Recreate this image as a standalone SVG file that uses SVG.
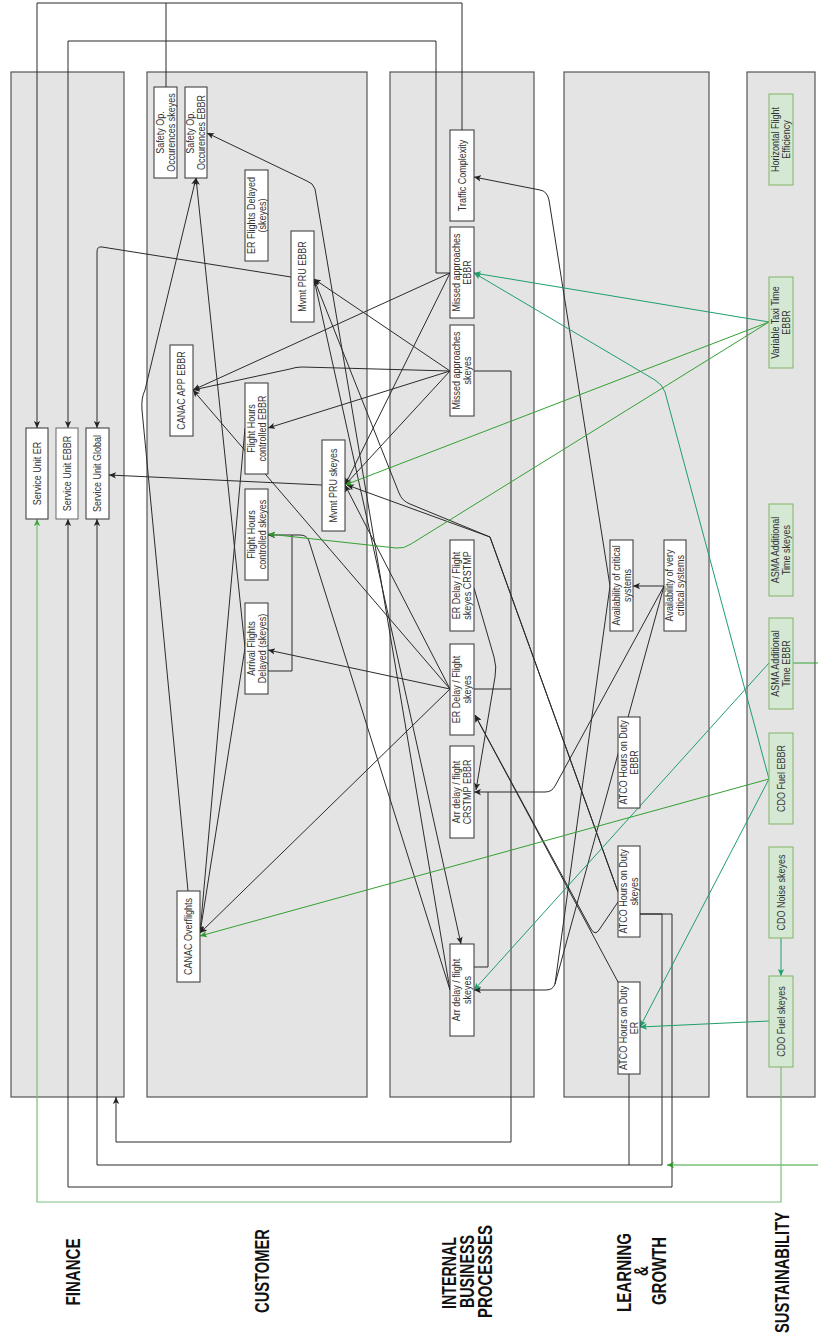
<svg xmlns="http://www.w3.org/2000/svg" width="818" height="1339" viewBox="0 0 818 1339">
  <style>
    .lane { fill: #e4e4e4; stroke: #555; stroke-width: 1.2; }
    .box { fill: #fff; stroke: #333; stroke-width: 1; }
    .gbox { fill: #d5e8d4; stroke: #82b366; stroke-width: 1; }
    .t { font-family: "Liberation Sans", Arial, sans-serif; font-size: 10px; fill: #333; text-anchor: middle; }
    .h { font-family: "Liberation Sans", Arial, sans-serif; font-size: 20px; font-weight: bold; fill: #111; }
    .e { fill: none; stroke: #2b2b2b; stroke-width: 1; }
    .ea { fill: none; stroke: #2b2b2b; stroke-width: 1; marker-end: url(#ab); }
    .g { fill: none; stroke: #34a034; stroke-width: 1; marker-end: url(#ag); }
    .gt { fill: none; stroke: #1f9e6a; stroke-width: 1; marker-end: url(#at); }
    .gp { fill: none; stroke: #7cc07c; stroke-width: 1.2; marker-end: url(#ap); }
  </style>
  <defs>
    <marker id="ab" viewBox="0 0 10 10" refX="10" refY="5" markerWidth="7" markerHeight="7" markerUnits="userSpaceOnUse" orient="auto">
      <path d="M0,0.5 L10,5 L0,9.5 L2.5,5 z" fill="#222"/>
    </marker>
    <marker id="ag" viewBox="0 0 10 10" refX="10" refY="5" markerWidth="7" markerHeight="7" markerUnits="userSpaceOnUse" orient="auto">
      <path d="M0,0.5 L10,5 L0,9.5 L2.5,5 z" fill="#2a9a2a"/>
    </marker>
    <marker id="at" viewBox="0 0 10 10" refX="10" refY="5" markerWidth="7" markerHeight="7" markerUnits="userSpaceOnUse" orient="auto">
      <path d="M0,0.5 L10,5 L0,9.5 L2.5,5 z" fill="#1f9e6a"/>
    </marker>
    <marker id="ap" viewBox="0 0 10 10" refX="10" refY="5" markerWidth="7" markerHeight="7" markerUnits="userSpaceOnUse" orient="auto">
      <path d="M0,0.5 L10,5 L0,9.5 L2.5,5 z" fill="#3fa83f"/>
    </marker>
  </defs>

  <rect width="818" height="1339" fill="#fff"/>

  <!-- perspective lanes -->
  <g id="lane-finance"><rect class="lane" x="11" y="72" width="113" height="1025"/></g>
  <g id="lane-customer"><rect class="lane" x="147" y="72" width="220" height="1025"/></g>
  <g id="lane-internal"><rect class="lane" x="390" y="72" width="144" height="1025"/></g>
  <g id="lane-learning"><rect class="lane" x="564" y="72" width="145" height="1025"/></g>
  <g id="lane-sustainability"><rect class="lane" x="747" y="72" width="68" height="1025"/></g>

  <!-- connectors -->
  <g id="connectors">
    <!-- routed links into the finance units -->
    <path class="ea" d="M462,130 V3 H37 V428"/>
    <path class="e" d="M166,87 V3"/>
    <path class="ea" d="M450,273 H436 V41 H68 V428"/>
    <path class="ea" d="M291,277 L102,247 Q97,246 97,252 V428"/>
    <path class="ea" d="M322,485 L109,475"/>
    <path class="ea" d="M474,371 H511 V1142 H116 V1097"/>
    <path class="e" d="M474,689 H511"/>
    <path class="ea" d="M640,914 H662 V1165 H97 V519"/>
    <path class="e" d="M629,1074 V1165"/>
    <path class="ea" d="M640,914 H672 V1187 H68 V519"/>

    <!-- customer lane -->
    <path class="ea" d="M188,891 L142,410 Q141,398 145,390 L196,178"/>
    <path class="ea" d="M245,648 L196,178"/>
    <path class="ea" d="M245,648 L200,933"/>
    <path class="ea" d="M245,428 L200,933"/>
    <path class="ea" d="M450,689 L200,933"/>
    <path class="ea" d="M450,689 L193,390"/>
    <path class="ea" d="M450,689 L268,650"/>
    <path class="ea" d="M450,689 L345,485"/>
    <path class="ea" d="M450,273 L193,390"/>
    <path class="ea" d="M450,273 L345,485"/>
    <path class="ea" d="M450,371 L314,279"/>
    <path class="ea" d="M450,371 L302,367 Q296,367 290,369 L193,390"/>
    <path class="ea" d="M450,371 L268,428"/>
    <path class="ea" d="M450,371 L345,485"/>
    <path class="ea" d="M450,990 L315,189 Q313,183 307,181 L207,133"/>
    <path class="ea" d="M314,279 L461,944"/>
    <path class="ea" d="M450,990 L309,541 Q307,535 300,535 H268"/>
    <path class="e" d="M268,671 H292 V535"/>
    <path class="ea" d="M618,892 L490,537 L347,485"/>
    <path class="ea" d="M618,892 L490,537 L410,504 Q402,501 399,493 L314,279"/>

    <!-- internal and learning lanes -->
    <path class="ea" d="M610,586 L549,200 Q547,191 540,190 L474,177"/>
    <path class="ea" d="M664,586 H633"/>
    <path class="ea" d="M664,586 L555,786 Q552,792 545,792 H474"/>
    <path class="ea" d="M664,586 L555,984 Q553,990 546,990 H474"/>
    <path class="e" d="M610,586 L555,984"/>
    <path class="ea" d="M474,588 L494,657 Q497,667 495,677 L476,790"/>
    <path class="e" d="M474,967 H488 V792"/>
    <path class="ea" d="M618,902 L599,930 Q595,936 591,929 L475,715"/>
    <path class="ea" d="M618,982 L475,715"/>

    <!-- sustainability links -->
    <path class="gt" d="M769,322 L474,273"/>
    <path class="g" d="M769,322 L345,485"/>
    <path class="g" d="M769,322 L411,544 Q404,549 396,548 L268,534"/>
    <path class="gt" d="M769,779 L665,392 Q662,384 655,380 L474,273"/>
    <path class="g" d="M769,779 L200,936"/>
    <path class="gt" d="M769,779 L640,1027"/>
    <path class="gt" d="M769,1021 L640,1027"/>
    <path class="gt" d="M769,663 L474,990"/>
    <path class="g" d="M793,663 H830 V1165 H667"/>
    <path class="gt" d="M781,938 V976"/>
    <path class="gp" d="M781,1067 V1202 H37 V519"/>
  </g>

  <!-- finance -->
  <g id="n-su-er"><rect class="box" x="26" y="428" width="22" height="91"/><text class="t" transform="translate(37,473.5) rotate(-90) scale(0.9,1)" y="3.5">Service Unit ER</text></g>
  <g id="n-su-ebbr"><rect class="box" x="56" y="428" width="22" height="91" style="stroke:#666"/><text class="t" transform="translate(67,473.5) rotate(-90) scale(0.9,1)" y="3.5">Service Unit EBBR</text></g>
  <g id="n-su-global"><rect class="box" x="86" y="428" width="23" height="91"/><text class="t" transform="translate(97.5,473.5) rotate(-90) scale(0.9,1)" y="3.5">Service Unit Global</text></g>

  <!-- customer -->
  <g id="n-safety-skeyes"><rect class="box" x="154" y="87" width="23" height="91"/><text class="t" transform="translate(165.5,132.5) rotate(-90) scale(0.9,1)"><tspan x="0" y="-2">Safety Op.</tspan><tspan x="0" y="9">Occurences skeyes</tspan></text></g>
  <g id="n-safety-ebbr"><rect class="box" x="185" y="87" width="22" height="91"/><text class="t" transform="translate(196,132.5) rotate(-90) scale(0.9,1)"><tspan x="0" y="-2">Safety Op.</tspan><tspan x="0" y="9">Occurences EBBR</tspan></text></g>
  <g id="n-er-flights-delayed"><rect class="box" x="245" y="170" width="23" height="91"/><text class="t" transform="translate(256.5,215.5) rotate(-90) scale(0.9,1)"><tspan x="0" y="-2">ER Flights Delayed</tspan><tspan x="0" y="9">(skeyes)</tspan></text></g>
  <g id="n-mvmt-pru-ebbr"><rect class="box" x="291" y="231" width="23" height="91"/><text class="t" transform="translate(302.5,276.5) rotate(-90) scale(0.9,1)" y="3.5">Mvmt PRU EBBR</text></g>
  <g id="n-canac-app-ebbr"><rect class="box" x="170" y="345" width="23" height="91"/><text class="t" transform="translate(181.5,390.5) rotate(-90) scale(0.9,1)" y="3.5">CANAC APP EBBR</text></g>
  <g id="n-fh-ebbr"><rect class="box" x="245" y="383" width="23" height="91"/><text class="t" transform="translate(256.5,428.5) rotate(-90) scale(0.9,1)"><tspan x="0" y="-2">Flight Hours</tspan><tspan x="0" y="9">controlled EBBR</tspan></text></g>
  <g id="n-mvmt-pru-skeyes"><rect class="box" x="322" y="440" width="23" height="91"/><text class="t" transform="translate(333.5,485.5) rotate(-90) scale(0.9,1)" y="3.5">Mvmt PRU skeyes</text></g>
  <g id="n-fh-skeyes"><rect class="box" x="245" y="489" width="23" height="91"/><text class="t" transform="translate(256.5,534.5) rotate(-90) scale(0.9,1)"><tspan x="0" y="-2">Flight Hours</tspan><tspan x="0" y="9">controlled skeyes</tspan></text></g>
  <g id="n-arrival-delayed"><rect class="box" x="245" y="603" width="23" height="91"/><text class="t" transform="translate(256.5,648.5) rotate(-90) scale(0.9,1)"><tspan x="0" y="-2">Arrival Flights</tspan><tspan x="0" y="9">Delayed (skeyes)</tspan></text></g>
  <g id="n-canac-overflights"><rect class="box" x="177" y="891" width="23" height="91"/><text class="t" transform="translate(188.5,936.5) rotate(-90) scale(0.9,1)" y="3.5">CANAC Overflights</text></g>

  <!-- internal business processes -->
  <g id="n-traffic-complexity"><rect class="box" x="450" y="130" width="24" height="91"/><text class="t" transform="translate(462,175.5) rotate(-90) scale(0.9,1)" y="3.5">Traffic Complexity</text></g>
  <g id="n-missed-ebbr"><rect class="box" x="450" y="227" width="24" height="91"/><text class="t" transform="translate(462,272.5) rotate(-90) scale(0.9,1)"><tspan x="0" y="-2">Missed approaches</tspan><tspan x="0" y="9">EBBR</tspan></text></g>
  <g id="n-missed-skeyes"><rect class="box" x="450" y="325" width="24" height="91"/><text class="t" transform="translate(462,370.5) rotate(-90) scale(0.9,1)"><tspan x="0" y="-2">Missed approaches</tspan><tspan x="0" y="9">skeyes</tspan></text></g>
  <g id="n-er-delay-crstmp"><rect class="box" x="450" y="540" width="24" height="91"/><text class="t" transform="translate(462,585.5) rotate(-90) scale(0.9,1)"><tspan x="0" y="-2">ER Delay / Flight</tspan><tspan x="0" y="9">skeyes CRSTMP</tspan></text></g>
  <g id="n-er-delay-skeyes"><rect class="box" x="450" y="644" width="24" height="91"/><text class="t" transform="translate(462,689.5) rotate(-90) scale(0.9,1)"><tspan x="0" y="-2">ER Delay / Flight</tspan><tspan x="0" y="9">skeyes</tspan></text></g>
  <g id="n-arr-delay-crstmp"><rect class="box" x="450" y="746" width="24" height="92"/><text class="t" transform="translate(462,792) rotate(-90) scale(0.9,1)"><tspan x="0" y="-2">Arr delay / flight</tspan><tspan x="0" y="9">CRSTMP EBBR</tspan></text></g>
  <g id="n-arr-delay-skeyes"><rect class="box" x="450" y="944" width="24" height="92"/><text class="t" transform="translate(462,990) rotate(-90) scale(0.9,1)"><tspan x="0" y="-2">Arr delay / flight</tspan><tspan x="0" y="9">skeyes</tspan></text></g>

  <!-- learning and growth -->
  <g id="n-avail-critical"><rect class="box" x="610" y="540" width="23" height="91"/><text class="t" transform="translate(621.5,585.5) rotate(-90) scale(0.9,1)"><tspan x="0" y="-2">Availability of critical</tspan><tspan x="0" y="9">systems</tspan></text></g>
  <g id="n-avail-very-critical"><rect class="box" x="664" y="540" width="22" height="91"/><text class="t" transform="translate(675,585.5) rotate(-90) scale(0.9,1)"><tspan x="0" y="-2">Availability of very</tspan><tspan x="0" y="9">critical systems</tspan></text></g>
  <g id="n-atco-ebbr"><rect class="box" x="618" y="717" width="22" height="91"/><text class="t" transform="translate(629,762.5) rotate(-90) scale(0.9,1)"><tspan x="0" y="-2">ATCO Hours on Duty</tspan><tspan x="0" y="9">EBBR</tspan></text></g>
  <g id="n-atco-skeyes"><rect class="box" x="618" y="846" width="22" height="91"/><text class="t" transform="translate(629,891.5) rotate(-90) scale(0.9,1)"><tspan x="0" y="-2">ATCO Hours on Duty</tspan><tspan x="0" y="9">skeyes</tspan></text></g>
  <g id="n-atco-er"><rect class="box" x="618" y="982" width="22" height="92"/><text class="t" transform="translate(629,1028) rotate(-90) scale(0.9,1)"><tspan x="0" y="-2">ATCO Hours on Duty</tspan><tspan x="0" y="9">ER</tspan></text></g>

  <!-- sustainability -->
  <g id="n-hfe"><rect class="gbox" x="769" y="94" width="24" height="91"/><text class="t" transform="translate(781,139.5) rotate(-90) scale(0.9,1)"><tspan x="0" y="-2">Horizontal Flight</tspan><tspan x="0" y="9">Efficiency</tspan></text></g>
  <g id="n-taxi-time"><rect class="gbox" x="769" y="277" width="24" height="91"/><text class="t" transform="translate(781,322.5) rotate(-90) scale(0.9,1)"><tspan x="0" y="-2">Variable Taxi Time</tspan><tspan x="0" y="9">EBBR</tspan></text></g>
  <g id="n-asma-skeyes"><rect class="gbox" x="769" y="504" width="24" height="92"/><text class="t" transform="translate(781,550) rotate(-90) scale(0.9,1)"><tspan x="0" y="-2">ASMA Additional</tspan><tspan x="0" y="9">Time skeyes</tspan></text></g>
  <g id="n-asma-ebbr"><rect class="gbox" x="769" y="618" width="24" height="91"/><text class="t" transform="translate(781,663.5) rotate(-90) scale(0.9,1)"><tspan x="0" y="-2">ASMA Additional</tspan><tspan x="0" y="9">Time EBBR</tspan></text></g>
  <g id="n-cdo-fuel-ebbr"><rect class="gbox" x="769" y="733" width="24" height="91"/><text class="t" transform="translate(781,778.5) rotate(-90) scale(0.9,1)" y="3.5">CDO Fuel EBBR</text></g>
  <g id="n-cdo-noise-skeyes"><rect class="gbox" x="769" y="847" width="24" height="91"/><text class="t" transform="translate(781,892.5) rotate(-90) scale(0.9,1)" y="3.5">CDO Noise skeyes</text></g>
  <g id="n-cdo-fuel-skeyes"><rect class="gbox" x="769" y="976" width="24" height="91"/><text class="t" transform="translate(781,1021.5) rotate(-90) scale(0.9,1)" y="3.5">CDO Fuel skeyes</text></g>

  <!-- lane titles -->
  <g id="lane-titles">
    <text class="h" transform="translate(73,1272) rotate(-90)" x="-33.5" y="7.2" textLength="67" lengthAdjust="spacingAndGlyphs">FINANCE</text>
    <text class="h" transform="translate(262,1271) rotate(-90)" x="-42" y="7.2" textLength="84" lengthAdjust="spacingAndGlyphs">CUSTOMER</text>
    <text class="h" transform="translate(449,1273) rotate(-90)" x="-36" y="7.2" textLength="72" lengthAdjust="spacingAndGlyphs">INTERNAL</text>
    <text class="h" transform="translate(467,1271.5) rotate(-90)" x="-36.5" y="7.2" textLength="73" lengthAdjust="spacingAndGlyphs">BUSINESS</text>
    <text class="h" transform="translate(485,1271.5) rotate(-90)" x="-46.5" y="7.2" textLength="93" lengthAdjust="spacingAndGlyphs">PROCESSES</text>
    <text class="h" transform="translate(624,1272.5) rotate(-90)" x="-39.5" y="7.2" textLength="79" lengthAdjust="spacingAndGlyphs">LEARNING</text>
    <text class="h" transform="translate(641,1271) rotate(-90)" x="-5" y="7.2" textLength="10" lengthAdjust="spacingAndGlyphs">&amp;</text>
    <text class="h" transform="translate(659,1271) rotate(-90)" x="-34" y="7.2" textLength="68" lengthAdjust="spacingAndGlyphs">GROWTH</text>
    <text class="h" transform="translate(782,1272.5) rotate(-90)" x="-60.5" y="7.2" textLength="121" lengthAdjust="spacingAndGlyphs">SUSTAINABILITY</text>
  </g>
</svg>
